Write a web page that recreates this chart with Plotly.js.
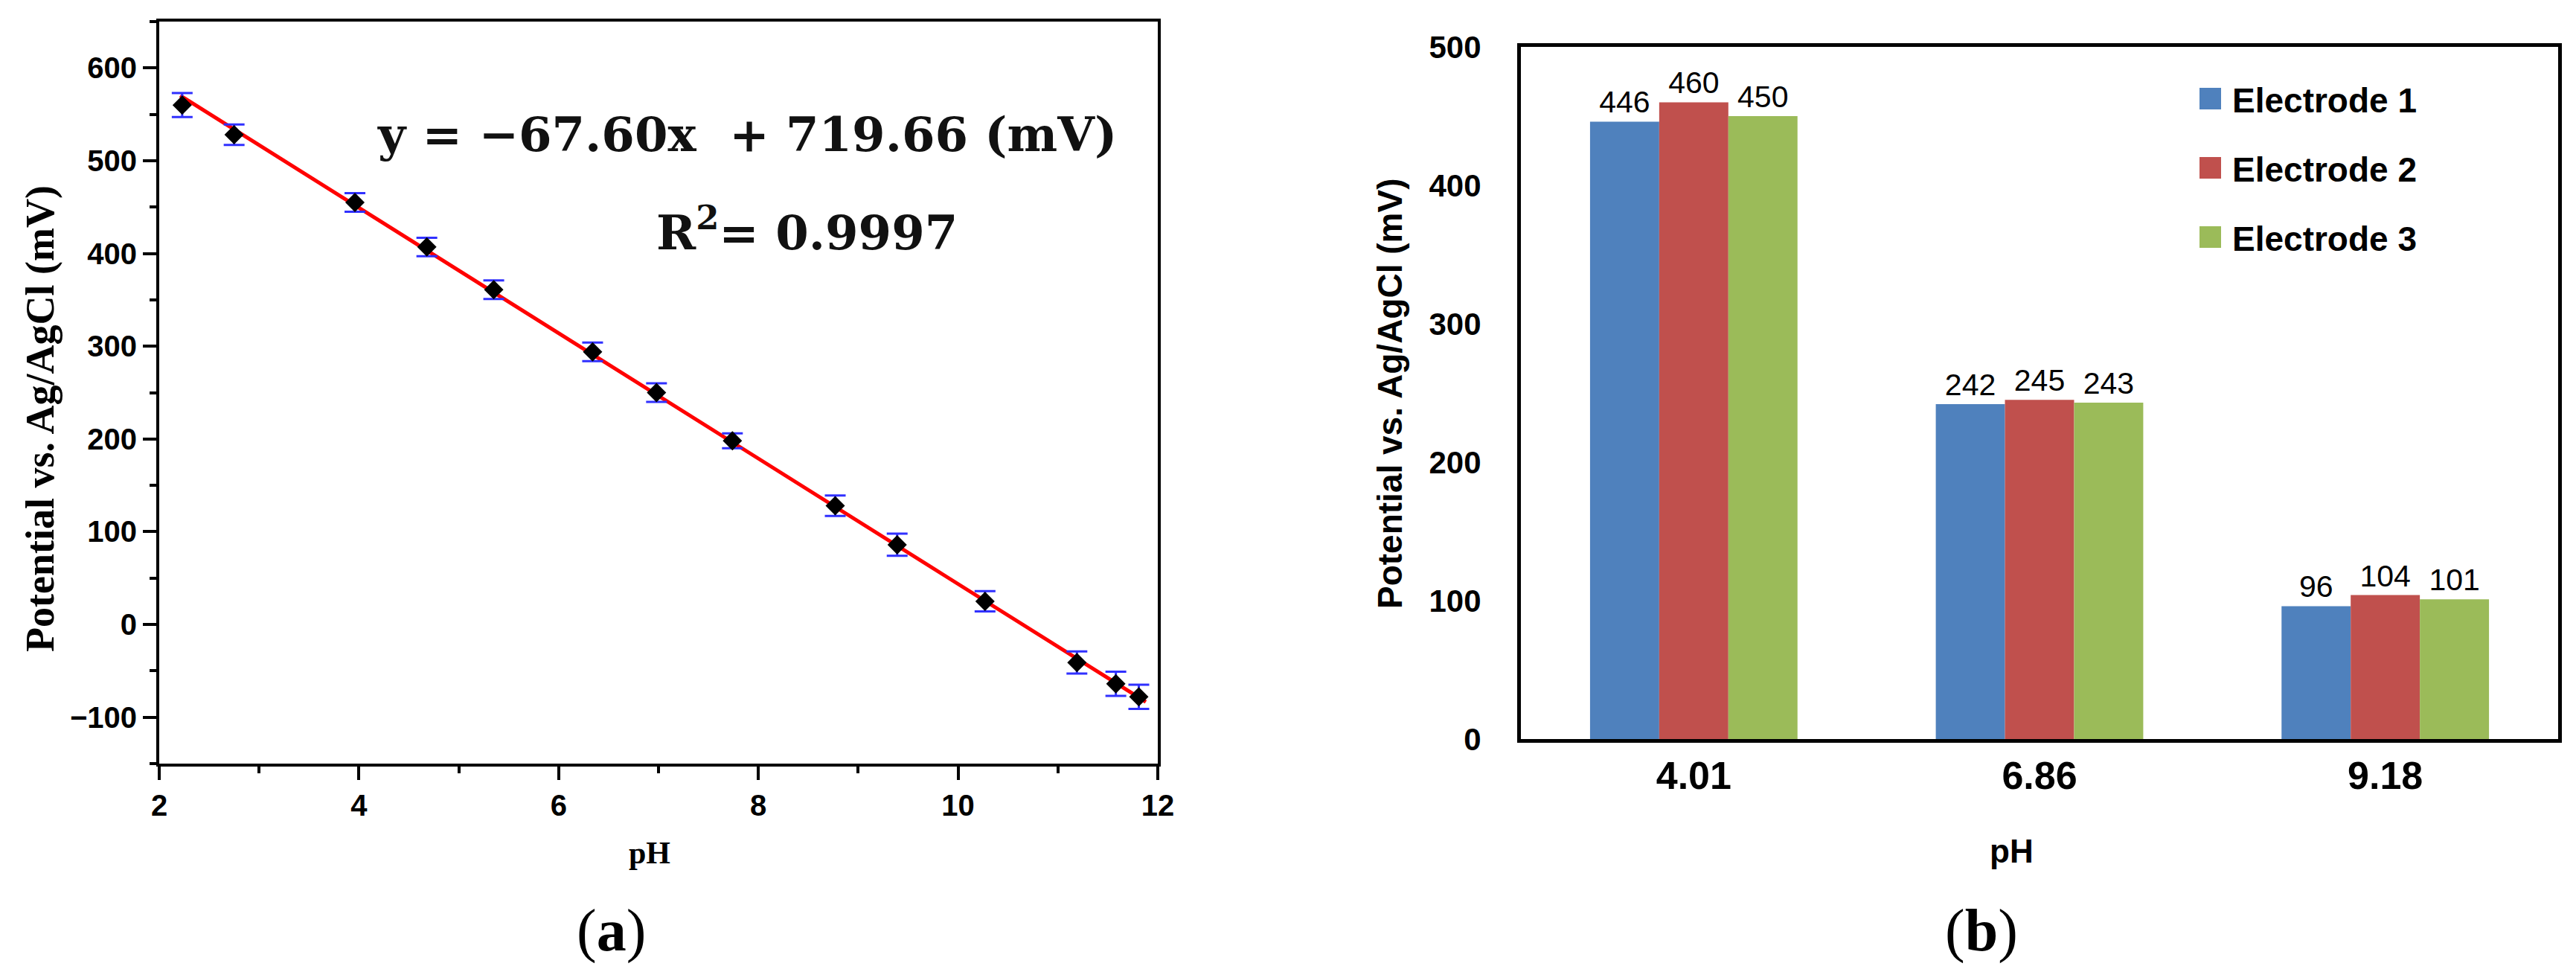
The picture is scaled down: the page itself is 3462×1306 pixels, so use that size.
<!DOCTYPE html>
<html>
<head>
<meta charset="utf-8">
<script src="https://cdn.plot.ly/plotly-3.0.1.min.js"></script>
<style>
  html, body { margin: 0; padding: 0; background: #ffffff; }
  #chart { width: 3462px; height: 1306px; }
</style>
</head>
<body>
<div id="chart"></div>
<script>
// (a) calibration points
var phValues = [2.23, 2.75, 3.96, 4.68, 5.35, 6.34, 6.98, 7.74, 8.77, 9.39, 10.27, 11.19, 11.58, 11.81];
var potentials = [560, 528, 455, 407, 361, 294, 250, 198, 128, 86, 25, -41, -64, -78];
var potentialErr = [13, 11, 10, 10, 10, 10, 10, 8, 11, 12, 11, 12, 13, 13];
// linear fit given in the chart
var fitSlope = -67.60;
var fitIntercept = 719.66;
var fitPh = [2.21, 11.88];

// (b) three electrodes in three buffers
var bufferLabels = ['4.01', '6.86', '9.18'];
var electrodeNames = ['Electrode 1', 'Electrode 2', 'Electrode 3'];
var electrode1 = [446, 242, 96];
var electrode2 = [460, 245, 104];
var electrode3 = [450, 243, 101];
var electrodeColors = ['#4f81bd', '#c0504d', '#9bbb59'];

// pixel helpers, page is 3462 x 1306
var W = 3462, H = 1306;
function px(x){ return x / W; }
function py(y){ return 1 - y / H; }

var serif = 'Liberation Serif, Times New Roman, serif';
var sans = 'Liberation Sans, Arial, sans-serif';

//left panel traces
var fitTrace = {
	x: fitPh,
	y: fitPh.map(function(p){ return fitSlope * p + fitIntercept; }),
	mode: 'lines',
	line: {color: '#ff0000', width: 5},
	xaxis: 'x', yaxis: 'y',
	showlegend: false,
	hoverinfo: 'skip'
};
var pointTrace = {
	x: phValues,
	y: potentials,
	mode: 'markers',
	marker: {symbol: 'diamond', size: 20, color: '#000000'},
	error_y: {type: 'data', array: potentialErr, visible: true, color: '#3030ff', thickness: 3, width: 14},
	xaxis: 'x', yaxis: 'y',
	showlegend: false
};

//right panel bars
var seriesValues = [electrode1, electrode2, electrode3];
var barTraces = seriesValues.map(function(vals, i){
	return {
		type: 'bar',
		x: bufferLabels,
		y: vals,
		name: electrodeNames[i],
		marker: {color: electrodeColors[i]},
		text: vals.map(String),
		textposition: 'outside',
		constraintext: 'none',
		cliponaxis: false,
		textfont: {family: sans, size: 41, color: '#000000'},
		xaxis: 'x2', yaxis: 'y2',
		showlegend: false
	};
});

//hand-made legend so the swatches can be as big as in the picture
var shapes = [];
var annotations = [];
var legendRows = [132, 225, 318];
electrodeNames.forEach(function(name, i){
	shapes.push({
		type: 'rect', xref: 'paper', yref: 'paper',
		x0: px(2956), x1: px(2985), y0: py(legendRows[i] + 15), y1: py(legendRows[i] - 14),
		fillcolor: electrodeColors[i], line: {width: 0}
	});
	annotations.push({
		xref: 'paper', yref: 'paper', x: px(2998), y: py(legendRows[i] + 3),
		xanchor: 'left', yanchor: 'middle', showarrow: false,
		text: name, font: {family: sans, size: 46, weight: 'bold', color: '#000000'}
	});
});

function label(text, x, y, font, angle){
	annotations.push({
		xref: 'paper', yref: 'paper', x: px(x), y: py(y),
		xanchor: 'center', yanchor: 'middle', showarrow: false,
		text: text, font: font, textangle: angle || 0
	});
}

//equation and R2
label('y\u00a0=\u00a0\u221267.60x\u00a0\u00a0+\u00a0719.66\u00a0(mV)', 1004, 180,
	{family: 'DejaVu Serif, serif', size: 64, weight: 'bold', color: '#111111'});
label('R<sup>2</sup>=\u00a00.9997', 1084, 308,
	{family: 'DejaVu Serif, serif', size: 64, weight: 'bold', color: '#111111'});

//axis titles and panel letters
label('Potential vs. Ag/AgCl (mV)', 54, 563, {family: serif, size: 54, weight: 'bold', color: '#000000'}, -90);
label('pH', 873, 1146, {family: serif, size: 42, weight: 'bold', color: '#000000'});
label('(<b>a</b>)', 821, 1250, {family: serif, size: 80, color: '#000000'});
label('Potential vs. Ag/AgCl (mV)', 1868, 529, {family: sans, size: 46, weight: 'bold', color: '#000000'}, -90);
label('pH', 2703, 1143, {family: sans, size: 44, weight: 'bold', color: '#000000'});
label('(<b>b</b>)', 2663, 1250, {family: serif, size: 80, color: '#000000'});

var tickFontA = {family: sans, size: 40, weight: 'bold', color: '#000000'};

var layout = {
	width: W,
	height: H,
	margin: {l: 0, r: 0, t: 0, b: 0},
	paper_bgcolor: '#ffffff',
	plot_bgcolor: '#ffffff',
	font: {family: sans, color: '#000000'},
	showlegend: false,
	bargap: 0.4,
	bargroupgap: 0,
	barmode: 'group',
	xaxis: {
		domain: [px(214), px(1556)],
		anchor: 'y',
		range: [2, 12], tick0: 2, dtick: 2,
		ticks: 'outside', ticklen: 18, tickwidth: 4, tickcolor: '#000000',
		minor: {ticks: 'outside', ticklen: 9, tickwidth: 4, dtick: 1, tickcolor: '#000000'},
		showline: true, linewidth: 4, linecolor: '#000000', mirror: true,
		showgrid: false, zeroline: false,
		tickfont: tickFontA
	},
	yaxis: {
		domain: [py(1026), py(29)],
		anchor: 'x',
		range: [-150, 650], tick0: 0, dtick: 100,
		ticks: 'outside', ticklen: 18, tickwidth: 4, tickcolor: '#000000',
		minor: {ticks: 'outside', ticklen: 9, tickwidth: 4, dtick: 50, tickcolor: '#000000'},
		showline: true, linewidth: 4, linecolor: '#000000', mirror: true,
		showgrid: false, zeroline: false,
		tickfont: tickFontA
	},
	xaxis2: {
		domain: [px(2044), px(3438)],
		anchor: 'y2',
		type: 'category',
		ticks: '', ticklabelstandoff: 0,
		showline: true, linewidth: 5, linecolor: '#000000', mirror: true,
		showgrid: false, zeroline: false,
		tickfont: {family: sans, size: 52, weight: 'bold', color: '#000000'}
	},
	yaxis2: {
		domain: [py(993), py(63)],
		anchor: 'x2',
		range: [0, 500], dtick: 100,
		ticks: '', ticklabelstandoff: 40,
		showline: true, linewidth: 5, linecolor: '#000000', mirror: true,
		showgrid: false, zeroline: false,
		tickfont: {family: sans, size: 42, weight: 'bold', color: '#000000'}
	},
	shapes: shapes,
	annotations: annotations
};

Plotly.newPlot('chart', [fitTrace, pointTrace].concat(barTraces), layout, {staticPlot: true});
</script>
</body>
</html>
